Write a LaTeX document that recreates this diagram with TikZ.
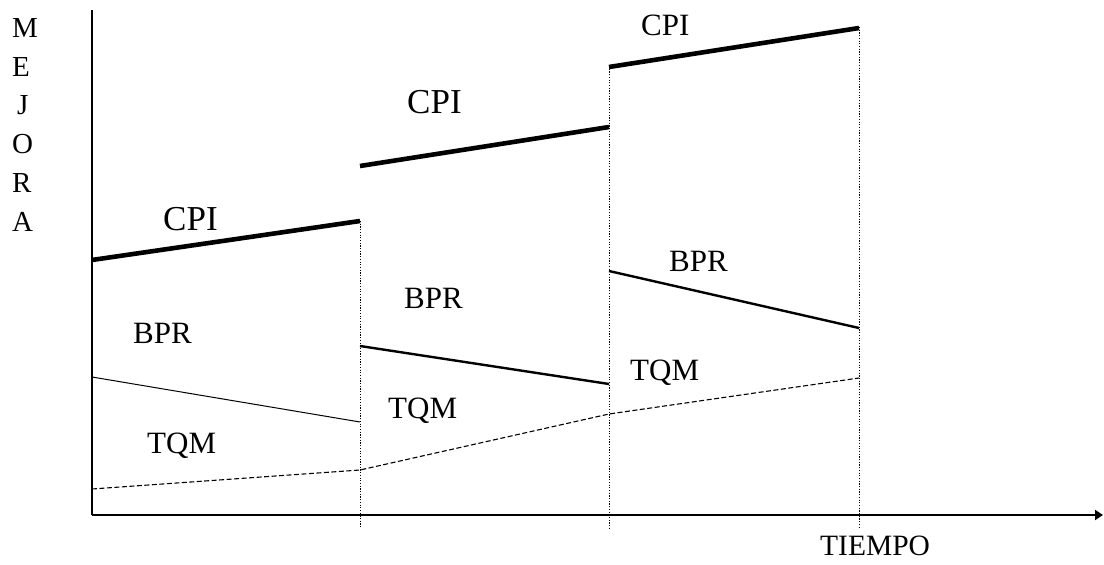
\documentclass[tikz,border=0pt]{standalone}
\usepackage{fontspec}
\setmainfont{Liberation Serif}
\usetikzlibrary{arrows.meta}
\begin{document}
\begin{tikzpicture}[x=1pt,y=-1pt,
  axisline/.style={line width=2.8pt},
  cpiline/.style={line width=4.6pt},
  bprline/.style={line width=2.4pt},
  thinline/.style={line width=1pt},
  tqmline/.style={line width=1.1pt,dash pattern=on 5pt off 2.5pt},
  stage/.style={line width=1pt,dash pattern=on 1.2pt off 1.5pt},
  lbl/.style={anchor=base west,inner sep=0pt,font=\fontsize{31}{31}\selectfont},
  biglbl/.style={anchor=base west,inner sep=0pt,font=\fontsize{35}{35}\selectfont},
  letter/.style={anchor=base west,inner sep=0pt,font=\fontsize{29}{29}\selectfont}]
\useasboundingbox (0,0) rectangle (1104,565);

% axes
\coordinate (o) at (92,515);
\coordinate (ytop) at (92,10);
\coordinate (xend) at (1103,515);
\draw[axisline] (ytop) -- (o);
\draw[axisline,-{Triangle[length=8pt,width=10pt]}] (o) -- (xend);

% stage boundaries
\coordinate (s1t) at (360,221); \coordinate (s1b) at (360,528);
\coordinate (s2t) at (609,66);  \coordinate (s2b) at (609,528);
\coordinate (s3t) at (859,27);  \coordinate (s3b) at (859,528);
\draw[stage] (s1t) -- (s1b);
\draw[stage] (s2t) -- (s2b);
\draw[stage] (s3t) -- (s3b);

% CPI levels
\coordinate (c1a) at (92,260);  \coordinate (c1b) at (360,221);
\coordinate (c2a) at (360,166); \coordinate (c2b) at (609,127);
\coordinate (c3a) at (609,67);  \coordinate (c3b) at (859,28);
\draw[cpiline] (c1a) -- (c1b);
\draw[cpiline] (c2a) -- (c2b);
\draw[cpiline] (c3a) -- (c3b);

% BPR / TQM boundary
\coordinate (b1a) at (92,377);  \coordinate (b1b) at (360,422);
\coordinate (b2a) at (360,346); \coordinate (b2b) at (609,384);
\coordinate (b3a) at (609,271); \coordinate (b3b) at (859,328);
\draw[thinline] (b1a) -- (b1b);
\draw[bprline] (b2a) -- (b2b);
\draw[bprline] (b3a) -- (b3b);

% TQM base
\coordinate (t0) at (92,489);
\coordinate (t1) at (360,470);
\coordinate (t2) at (609,414);
\coordinate (t3) at (859,378);
\draw[tqmline] (t0) -- (t1) -- (t2) -- (t3);

% labels
\node[biglbl] (cpi1) at (163,230) {CPI};
\node[biglbl] (cpi2) at (407,113) {CPI};
\node[lbl] (cpi3) at (641,35) {CPI};
\node[lbl] (bpr1) at (133,343) {BPR};
\node[lbl] (bpr2) at (404,308) {BPR};
\node[lbl] (bpr3) at (669,271) {BPR};
\node[lbl] (tqm1) at (147,453) {TQM};
\node[lbl] (tqm2) at (388,418) {TQM};
\node[lbl] (tqm3) at (630,380) {TQM};
\node[lbl,font=\fontsize{29.5}{29.5}\selectfont] (tiempo) at (820,555) {TIEMPO};

% vertical axis title
\node[letter] (m) at (12,37) {M};
\node[letter] (e) at (12,76) {E};
\node[letter] (j) at (17,114) {J};
\node[letter] (oo) at (12,153) {O};
\node[letter] (r) at (12,192) {R};
\node[letter] (a) at (12,231) {A};
\end{tikzpicture}
\end{document}
